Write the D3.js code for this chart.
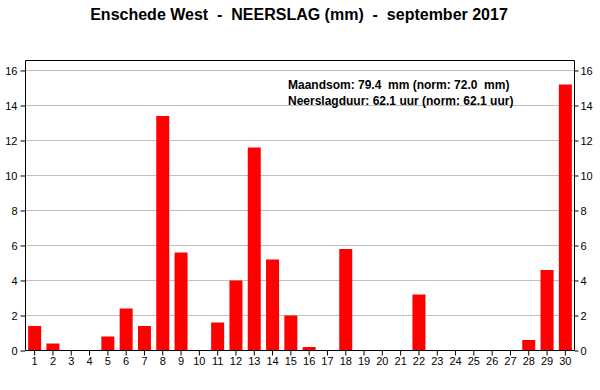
<!DOCTYPE html>
<html>
<head>
<meta charset="utf-8">
<script src="https://cdn.jsdelivr.net/npm/d3@7"></script>
<style>
  body { margin: 0; background: #fff; }
  text { font-family: "Liberation Sans", Arial, sans-serif; white-space: pre; }
</style>
</head>
<body>
<div id="wrapper"></div>
<script>
const days = d3.range(1, 31)
const rain = [1.4, 0.4, 0, 0, 0.8, 2.4, 1.4, 13.4, 5.6, 0,
              1.6, 4.0, 11.6, 5.2, 2.0, 0.2, 0, 5.8, 0, 0,
              0, 3.2, 0, 0, 0, 0, 0, 0.6, 4.6, 15.2]
const yTicks = [0, 2, 4, 6, 8, 10, 12, 14, 16]
const title = "Enschede West  -  NEERSLAG (mm)  -  september 2017"
const notes = ["Maandsom: 79.4  mm (norm: 72.0  mm)",
               "Neerslagduur: 62.1 uur (norm: 62.1 uur)"]

const dataset = days.map((d, i) => ({ day: d, value: rain[i] }))
const xAccessor = d => d.day
const yAccessor = d => d.value

let dimensions = {
    width: 600,
    height: 390,
    margin: { top: 60.5, right: 25.5, bottom: 39.5, left: 25.5 },
}
dimensions.boundedWidth = dimensions.width - dimensions.margin.left - dimensions.margin.right
dimensions.boundedHeight = dimensions.height - dimensions.margin.top - dimensions.margin.bottom

const wrapper = d3.select("#wrapper")
    .append("svg")
    .attr("width", dimensions.width)
    .attr("height", dimensions.height)

wrapper.append("text")
    .attr("x", 299)
    .attr("y", 20)
    .attr("text-anchor", "middle")
    .attr("font-size", "16px")
    .attr("font-weight", "bold")
    .text(title)

const bounds = wrapper.append("g")
    .attr("transform", `translate(${dimensions.margin.left},${dimensions.margin.top})`)

const yScaler = d3.scaleLinear()
    .domain([0, 16.57])
    .range([dimensions.boundedHeight, 0])

const xScaler = d3.scaleBand()
    .domain(days)
    .range([0, dimensions.boundedWidth])

// gridlines
bounds.append("g")
    .selectAll("line")
    .data(yTicks.filter(t => t > 0))
    .enter()
    .append("line")
    .attr("x1", 0)
    .attr("x2", dimensions.boundedWidth)
    .attr("y1", d => Math.round(yScaler(d)))
    .attr("y2", d => Math.round(yScaler(d)))
    .attr("stroke", "#c0c0c0")
    .attr("stroke-width", 1)

// bars
const barWidth = 13
bounds.append("g")
    .selectAll("rect")
    .data(dataset.filter(yAccessor))
    .enter()
    .append("rect")
    .attr("x", d => xScaler(xAccessor(d)) + xScaler.bandwidth() / 2 - barWidth / 2)
    .attr("y", d => yScaler(yAccessor(d)))
    .attr("width", barWidth)
    .attr("height", d => dimensions.boundedHeight - yScaler(yAccessor(d)))
    .attr("fill", "#ff0000")

// frame top
bounds.append("line")
    .attr("x1", 0).attr("x2", dimensions.boundedWidth)
    .attr("y1", 0).attr("y2", 0)
    .attr("stroke", "black")

const yAxisLeft = bounds.append("g")
    .call(d3.axisLeft(yScaler).tickValues(yTicks).tickSize(5).tickPadding(3).tickSizeOuter(0))
const yAxisRight = bounds.append("g")
    .attr("transform", `translate(${dimensions.boundedWidth},0)`)
    .call(d3.axisRight(yScaler).tickValues(yTicks).tickSize(4).tickPadding(2).tickSizeOuter(0))
const xAxis = bounds.append("g")
    .attr("transform", `translate(0,${dimensions.boundedHeight})`)
    .call(d3.axisBottom(xScaler).tickSize(5).tickPadding(2).tickSizeOuter(0))

for (const ax of [yAxisLeft, yAxisRight, xAxis]) {
    ax.selectAll("text")
        .attr("font-family", "Liberation Sans, Arial, sans-serif")
        .attr("font-size", "11px")
        .attr("fill", "black")
    ax.selectAll("line, path").attr("stroke", "black")
}
// domain lines extended to plot frame
yAxisLeft.select(".domain").attr("d", `M0,0V${dimensions.boundedHeight}`)
yAxisRight.select(".domain").attr("d", `M0,0V${dimensions.boundedHeight}`)
xAxis.select(".domain").attr("d", `M0,0H${dimensions.boundedWidth}`)

const noteGroup = wrapper.append("g")
noteGroup.selectAll("text")
    .data(notes)
    .enter()
    .append("text")
    .attr("x", 288)
    .attr("y", (d, i) => 89 + i * 16)
    .attr("font-size", "12px")
    .attr("font-weight", "bold")
    .attr("fill", "#000")
    .text(d => d)
</script>
</body>
</html>
